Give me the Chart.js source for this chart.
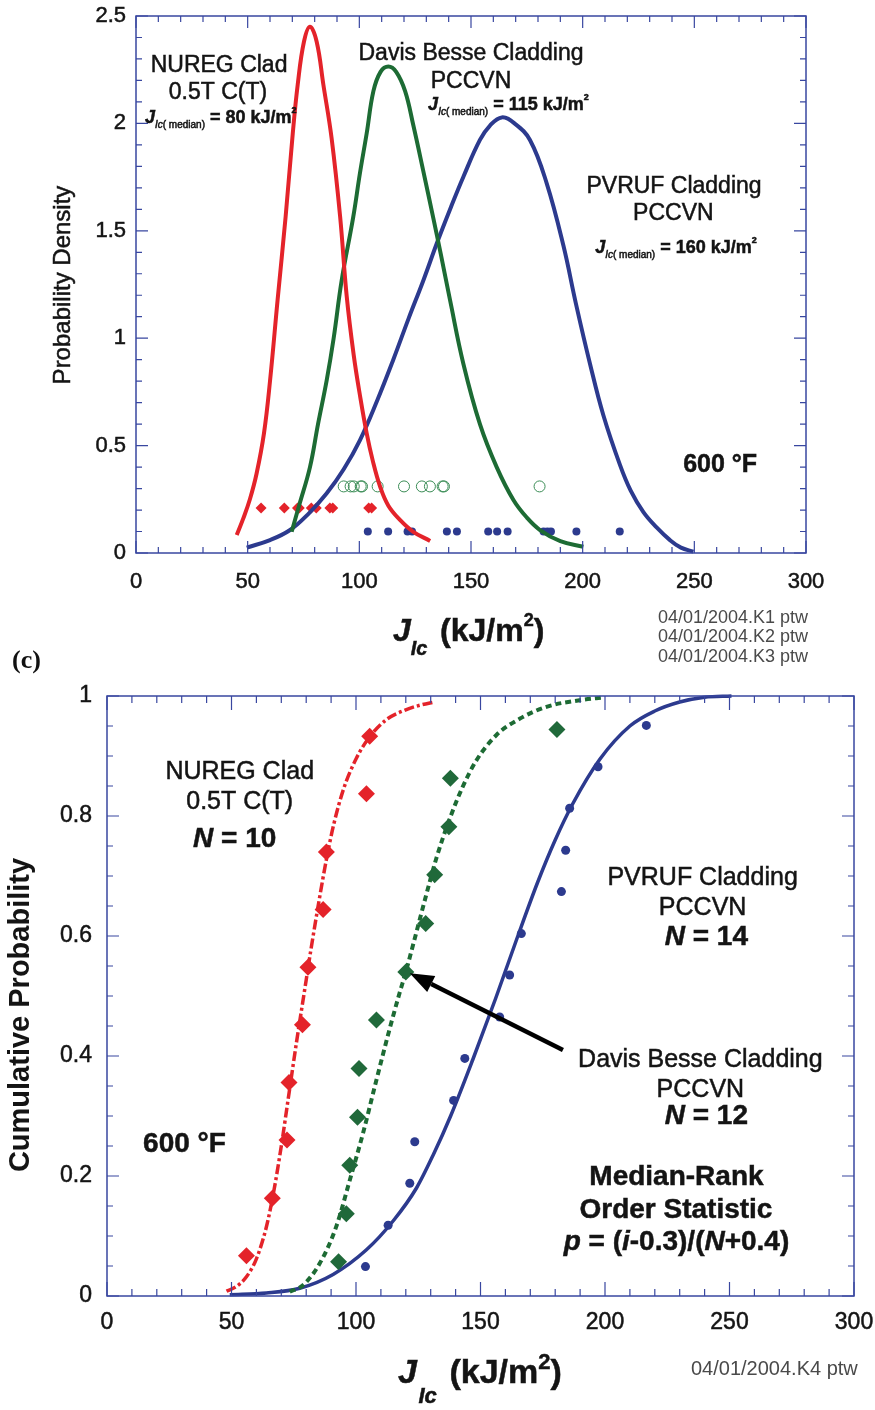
<!DOCTYPE html>
<html>
<head>
<meta charset="utf-8">
<script src="https://cdn.jsdelivr.net/npm/chart.js@4.4.1/dist/chart.umd.min.js"></script>
<style>
  html, body { margin: 0; padding: 0; background: #fff; }
  #wrap { position: relative; width: 875px; height: 1410px; overflow: hidden; }
  canvas { position: absolute; left: 0; }
  #pdfChart { top: 0; }
  #cdfChart { top: 680px; }
</style>
</head>
<body>
<div id="wrap">
  <canvas id="pdfChart" width="875" height="680"></canvas>
  <canvas id="cdfChart" width="875" height="730"></canvas>
</div>
<script>
// tick labels
var jTicks = [0, 50, 100, 150, 200, 250, 300];
var densityTicks = [0, 0.5, 1, 1.5, 2, 2.5];
var probTicks = [0, 0.2, 0.4, 0.6, 0.8, 1];

// measured J_Ic values (kJ/m^2) for each material
var nuregJ = [56, 66.4, 72.3, 73.1, 78.5, 80.7, 86.8, 88.1, 104.2, 105.5];
var davisJ = [93, 96.1, 97.5, 100.6, 101.2, 108.2, 120, 128, 131.6, 137.3, 137.9, 180.7];
var pvrufJ = [103.8, 112.9, 121.6, 123.6, 139.2, 143.7, 157.7, 161.7, 166.4, 182.5, 184.2, 185.8, 197.2, 216.6];

// heights of the data strips in the density plot: NUREG, Davis Besse, PVRUF
var stripLevels = [0.21, 0.31, 0.1];

// median-rank cumulative probabilities
var nuregP = [0.067, 0.163, 0.26, 0.356, 0.452, 0.548, 0.644, 0.74, 0.837, 0.933];
var davisP = [0.057, 0.137, 0.218, 0.298, 0.379, 0.46, 0.54, 0.621, 0.702, 0.782, 0.863, 0.944];
var pvrufP = [0.049, 0.118, 0.188, 0.257, 0.326, 0.396, 0.465, 0.535, 0.604, 0.674, 0.743, 0.813, 0.882, 0.951];

// fitted probability density curves
var nuregPdfX = [45.1, 48, 51, 54, 57.3, 60, 63.4, 67, 70.2, 72.4, 75.2, 77.9, 80.9, 83.9, 87.6, 91.4, 94.3, 97.5, 100.5, 103.3, 106, 109.3, 113, 118.2, 124, 131.7];
var nuregPdfY = [0.084, 0.16, 0.25, 0.37, 0.557, 0.8, 1.178, 1.566, 1.954, 2.18, 2.38, 2.45, 2.38, 2.18, 1.93, 1.566, 1.2, 0.92, 0.72, 0.557, 0.43, 0.309, 0.22, 0.154, 0.1, 0.056];
var davisPdfX = [69.7, 73, 77.9, 81.5, 85.4, 88.5, 92.1, 97.3, 100.3, 103.3, 106.3, 109.5, 113, 116.5, 120.5, 124.2, 128.5, 133.1, 136.5, 140.6, 146.6, 154, 161.5, 169, 175, 180.9, 190, 200.3];
var davisPdfY = [0.099, 0.22, 0.4, 0.6, 0.805, 1.0, 1.27, 1.566, 1.77, 1.954, 2.15, 2.24, 2.265, 2.24, 2.15, 1.99, 1.785, 1.56, 1.39, 1.178, 0.88, 0.6, 0.4, 0.247, 0.165, 0.107, 0.055, 0.029];
var pvrufPdfX = [49.6, 60, 69, 77, 85.4, 93, 100.3, 108, 115.2, 122, 128.7, 135, 141, 146.6, 154, 158.5, 163.8, 169.5, 176.4, 183.9, 191.4, 197, 203.3, 209.3, 216.7, 221.5, 227.2, 233, 239.1, 244, 249.6];
var pvrufPdfY = [0.025, 0.06, 0.107, 0.18, 0.278, 0.39, 0.526, 0.71, 0.9, 1.09, 1.27, 1.45, 1.61, 1.752, 1.923, 1.99, 2.028, 2.0, 1.923, 1.721, 1.43, 1.16, 0.88, 0.64, 0.41, 0.29, 0.19, 0.12, 0.06, 0.025, 0.006];

// fitted cumulative distribution curves
var nuregCdfX = [48, 52, 56, 60, 64, 67, 70, 73, 76, 79, 82, 85, 88, 91, 95, 100, 105.5, 112, 120, 126, 131.5];
var nuregCdfY = [0.008, 0.016, 0.032, 0.062, 0.115, 0.175, 0.25, 0.335, 0.42, 0.5, 0.58, 0.655, 0.725, 0.785, 0.845, 0.895, 0.932, 0.96, 0.977, 0.985, 0.99];
var davisCdfX = [73.4, 78.7, 85.4, 92.1, 97.5, 102.8, 108.2, 113.5, 117.5, 120, 122.9, 128.3, 132.3, 137.6, 143, 148.4, 156.4, 165.7, 176.5, 189.8, 199.9];
var davisCdfY = [0.007, 0.018, 0.054, 0.116, 0.193, 0.271, 0.36, 0.445, 0.505, 0.54, 0.585, 0.67, 0.73, 0.795, 0.85, 0.893, 0.935, 0.962, 0.982, 0.993, 0.998];
var pvrufCdfX = [49.3, 64, 77.4, 90.8, 104.2, 114.9, 124.3, 131, 138, 147, 156, 165, 173, 180, 187, 198, 210, 220, 230, 240, 250.8];
var pvrufCdfY = [0.002, 0.005, 0.013, 0.036, 0.077, 0.125, 0.18, 0.235, 0.3, 0.395, 0.495, 0.6, 0.69, 0.76, 0.82, 0.895, 0.95, 0.975, 0.99, 0.998, 1.0];

var FONT = "'Liberation Sans', Arial, Helvetica, sans-serif";
var RED = '#e4232a', GREEN = '#1d6b34', BLUE = '#2c3a8e', FRAME = '#3947a0', INK = '#141414';

function f(style) { return style + ' ' + FONT; }
function pts(xs, ys) { return xs.map(function (x, i) { return {x: x, y: ys[i]}; }); }
function strip(xs, level) { return xs.map(function (x) { return {x: x, y: level}; }); }

// draws a run of text pieces (t, font, dy, dx) one after the other
function richText(ctx, x, y, parts, align) {
  var w = 0;
  parts.forEach(function (p) { ctx.font = p[1]; w += ctx.measureText(p[0]).width + (p[3] || 0); });
  var cx = align === 'center' ? x - w / 2 : x;
  ctx.textAlign = 'left';
  parts.forEach(function (p) {
    ctx.font = p[1];
    cx += p[3] || 0;
    ctx.fillText(p[0], cx, y + (p[2] || 0));
    ctx.strokeText(p[0], cx, y + (p[2] || 0));
    cx += ctx.measureText(p[0]).width;
  });
}

function isMajor(v, step) { return Math.abs(v / step - Math.round(v / step)) < 1e-6; }

// frame with inward ticks on all four sides, plus the notes written on the plot
function boxPlugin(opts) {
  return {
    id: 'box',
    afterDraw: function (chart) {
      var ctx = chart.ctx, a = chart.chartArea, xs = chart.scales.x, ys = chart.scales.y;
      ctx.save();
      ctx.strokeStyle = FRAME;
      ctx.lineWidth = 1.5;
      ctx.strokeRect(a.left, a.top, a.right - a.left, a.bottom - a.top);
      ctx.lineWidth = 1.2;
      ctx.beginPath();
      var n = Math.round((xs.max - xs.min) / opts.xMinor), i, v, p, len;
      for (i = 0; i <= n; i++) {
        v = xs.min + i * opts.xMinor;
        p = xs.getPixelForValue(v);
        len = isMajor(v, opts.xMajor) ? opts.xMajLen : opts.xMinLen;
        ctx.moveTo(p, a.bottom); ctx.lineTo(p, a.bottom - len);
        ctx.moveTo(p, a.top); ctx.lineTo(p, a.top + len);
      }
      n = Math.round((ys.max - ys.min) / opts.yMinor);
      for (i = 0; i <= n; i++) {
        v = ys.min + i * opts.yMinor;
        p = ys.getPixelForValue(v);
        len = isMajor(v, opts.yMajor) ? opts.yMajLen : opts.yMinLen;
        ctx.moveTo(a.left, p); ctx.lineTo(a.left + len, p);
        ctx.moveTo(a.right, p); ctx.lineTo(a.right - len, p);
      }
      ctx.stroke();

      ctx.fillStyle = INK;
      ctx.strokeStyle = INK;
      ctx.lineWidth = 0.5;
      ctx.textBaseline = 'alphabetic';
      opts.notes.forEach(function (nt) {
        richText(ctx, xs.getPixelForValue(nt.x), ys.getPixelForValue(nt.y), nt.parts, nt.align);
      });
      if (opts.extra) opts.extra(ctx, chart);
      ctx.restore();
    }
  };
}

function fitY(w) { return function (s) { s.width = w; s.paddingTop = 0; s.paddingBottom = 0; }; }
function fitX(h) { return function (s) { s.height = h; s.paddingLeft = 0; s.paddingRight = 0; }; }
function useTicks(list) { return function (s) { s.ticks = list.map(function (v) { return {value: v}; }); }; }

function scales(xh, yw, yTicks, ymax, fontSize, xPad, yPad) {
  var tickFont = {family: FONT, size: fontSize};
  var grid = {display: false, drawTicks: false};
  return {
    x: {
      type: 'linear', min: 0, max: 300,
      afterBuildTicks: useTicks(jTicks), afterFit: fitX(xh),
      grid: grid, border: {display: false},
      ticks: {color: INK, font: tickFont, padding: xPad, maxRotation: 0, autoSkip: false,
              textStrokeColor: INK, textStrokeWidth: 0.5,
              callback: function (v) { return String(v); }}
    },
    y: {
      type: 'linear', min: 0, max: ymax,
      afterBuildTicks: useTicks(yTicks), afterFit: fitY(yw),
      grid: grid, border: {display: false},
      ticks: {color: INK, font: tickFont, padding: yPad, autoSkip: false,
              textStrokeColor: INK, textStrokeWidth: 0.5,
              callback: function (v) { return String(v); }}
    }
  };
}

function curve(data, color, width, dash, smooth) {
  var d = {data: data, showLine: true, borderColor: color, borderWidth: width, borderDash: dash || [],
           pointRadius: 0, fill: false, clip: false};
  if (smooth) { d.tension = 0.4; } else { d.cubicInterpolationMode = 'monotone'; }
  return d;
}
function marks(data, style, r, fillColor, edge) {
  return {data: data, showLine: false, pointStyle: style, pointRadius: r,
          backgroundColor: fillColor, borderColor: edge || fillColor, borderWidth: edge ? 1 : 0, clip: false};
}

var baseOptions = {
  responsive: false, animation: false, devicePixelRatio: 1,
  plugins: {legend: {display: false}, tooltip: {enabled: false}},
  events: []
};

function jLine(value) {
  return [['J', f('italic bold 18px')], ['Ic', f('italic 10px'), 5], ['( median)', f('10px'), 5],
          [' = ' + value + ' kJ/m', f('bold 18px')], ['2', f('bold 9px'), -10]];
}
function nLine(value) {
  return [['N', f('italic bold 28px')], [' = ' + value, f('bold 28px')]];
}

// ---------- probability density ----------
var pdfNotes = [
  {x: 37.2, y: 2.239, align: 'center', parts: [['NUREG Clad', f('23px')]]},
  {x: 36.7, y: 2.114, align: 'center', parts: [['0.5T C(T)', f('23px')]]},
  {x: 4.0, y: 2.002, align: 'left', parts: jLine('80')},
  {x: 150, y: 2.295, align: 'center', parts: [['Davis Besse Cladding', f('23px')]]},
  {x: 150, y: 2.163, align: 'center', parts: [['PCCVN', f('23px')]]},
  {x: 130.8, y: 2.062, align: 'left', parts: jLine('115')},
  {x: 240.9, y: 1.675, align: 'center', parts: [['PVRUF Cladding', f('23px')]]},
  {x: 240.6, y: 1.55, align: 'center', parts: [['PCCVN', f('23px')]]},
  {x: 205.6, y: 1.395, align: 'left', parts: jLine('160')},
  {x: 245, y: 0.378, align: 'left', parts: [['600 \u00B0F', f('bold 25px')]]}
];

new Chart(document.getElementById('pdfChart'), {
  type: 'scatter',
  data: {datasets: [
    curve(pts(nuregPdfX, nuregPdfY), RED, 4, null, true),
    curve(pts(davisPdfX, davisPdfY), GREEN, 4, null, true),
    curve(pts(pvrufPdfX, pvrufPdfY), BLUE, 4, null, true),
    marks(strip(nuregJ, stripLevels[0]), 'rectRot', 5.5, RED),
    marks(strip(davisJ, stripLevels[1]), 'circle', 5.5, 'rgba(0,0,0,0)', '#3a8c55'),
    marks(strip(pvrufJ, stripLevels[2]), 'circle', 4, BLUE)
  ]},
  options: Object.assign({}, baseOptions, {
    layout: {padding: {left: 0, top: 16, right: 69, bottom: 0}},
    scales: scales(127, 136, densityTicks, 2.5, 22, 16, 10)
  }),
  plugins: [boxPlugin({
    xMinor: 10, xMajor: 50, yMinor: 0.1, yMajor: 0.5,
    xMinLen: 6, xMajLen: 12, yMinLen: 6, yMajLen: 12,
    notes: pdfNotes,
    extra: function (ctx) {
      ctx.save();
      ctx.translate(70, 285);
      ctx.rotate(-Math.PI / 2);
      ctx.textAlign = 'center';
      ctx.font = f('24px');
      ctx.fillText('Probability Density', 0, 0);
      ctx.strokeText('Probability Density', 0, 0);
      ctx.restore();
      richText(ctx, 393, 641, [['J', f('italic bold 32px')], ['Ic', f('italic bold 20px'), 14],
        ['(kJ/m', f('bold 32px'), 0, 12.6], ['2', f('bold 18px'), -15], [')', f('bold 32px')]], 'left');
      ctx.fillStyle = '#4a4a4a';
      ctx.font = f('18px');
      ctx.fillText('04/01/2004.K1 ptw', 658, 623);
      ctx.fillText('04/01/2004.K2 ptw', 658, 642);
      ctx.fillText('04/01/2004.K3 ptw', 658, 662);
      ctx.fillStyle = '#111';
      ctx.font = "bold 26px 'Liberation Serif', 'Times New Roman', serif";
      ctx.fillText('(c)', 12, 668);
    }
  })]
});

// ---------- cumulative probability ----------
var cdfNotes = [
  {x: 53.3, y: 0.861, align: 'center', parts: [['NUREG Clad', f('25px')]]},
  {x: 53.3, y: 0.812, align: 'center', parts: [['0.5T C(T)', f('25px')]]},
  {x: 51.3, y: 0.749, align: 'center', parts: nLine('10')},
  {x: 239.2, y: 0.685, align: 'center', parts: [['PVRUF Cladding', f('25px')]]},
  {x: 239.2, y: 0.635, align: 'center', parts: [['PCCVN', f('25px')]]},
  {x: 240.7, y: 0.585, align: 'center', parts: nLine('14')},
  {x: 238.3, y: 0.382, align: 'center', parts: [['Davis Besse Cladding', f('25px')]]},
  {x: 238.3, y: 0.332, align: 'center', parts: [['PCCVN', f('25px')]]},
  {x: 240.7, y: 0.287, align: 'center', parts: nLine('12')},
  {x: 228.7, y: 0.185, align: 'center', parts: [['Median-Rank', f('bold 28px')]]},
  {x: 228.5, y: 0.13, align: 'center', parts: [['Order Statistic', f('bold 28px')]]},
  {x: 228.7, y: 0.0767, align: 'center', parts: [['p', f('italic bold 28px')], [' = (', f('bold 28px')],
    ['i', f('italic bold 28px')], ['-0.3)/(', f('bold 28px')], ['N', f('italic bold 28px')], ['+0.4)', f('bold 28px')]]},
  {x: 14.5, y: 0.2405, align: 'left', parts: [['600 \u00B0F', f('bold 28px')]]}
];

// arrow from the Davis Besse label to its curve (data units)
var arrowFrom = [183.1, 0.41], arrowTo = [121.6, 0.538];

new Chart(document.getElementById('cdfChart'), {
  type: 'scatter',
  data: {datasets: [
    marks(pts(nuregJ, nuregP), 'rectRot', 8.5, RED),
    marks(pts(davisJ, davisP), 'rectRot', 8.5, '#20693a'),
    marks(pts(pvrufJ, pvrufP), 'circle', 4.5, BLUE),
    curve(pts(nuregCdfX, nuregCdfY), RED, 3.5, [10, 3, 3, 3]),
    curve(pts(davisCdfX, davisCdfY), GREEN, 4, [6, 4]),
    curve(pts(pvrufCdfX, pvrufCdfY), BLUE, 3.5)
  ]},
  options: Object.assign({}, baseOptions, {
    layout: {padding: {left: 0, top: 16, right: 21, bottom: 0}},
    scales: scales(114, 107, probTicks, 1, 23, 13, 15)
  }),
  plugins: [boxPlugin({
    xMinor: 10, xMajor: 50, yMinor: 0.05, yMajor: 0.2,
    xMinLen: 7, xMajLen: 14, yMinLen: 6, yMajLen: 12,
    notes: cdfNotes,
    extra: function (ctx, chart) {
      var xs = chart.scales.x, ys = chart.scales.y;
      var x0 = xs.getPixelForValue(arrowFrom[0]), y0 = ys.getPixelForValue(arrowFrom[1]);
      var x1 = xs.getPixelForValue(arrowTo[0]), y1 = ys.getPixelForValue(arrowTo[1]);
      var ang = Math.atan2(y1 - y0, x1 - x0), head = 24, half = 9;
      var bx = x1 - head * Math.cos(ang), by = y1 - head * Math.sin(ang);
      ctx.strokeStyle = '#000';
      ctx.lineWidth = 4.5;
      ctx.beginPath(); ctx.moveTo(x0, y0); ctx.lineTo(bx, by); ctx.stroke();
      ctx.fillStyle = '#000';
      ctx.beginPath();
      ctx.moveTo(x1, y1);
      ctx.lineTo(bx + half * Math.sin(ang), by - half * Math.cos(ang));
      ctx.lineTo(bx - half * Math.sin(ang), by + half * Math.cos(ang));
      ctx.closePath(); ctx.fill();

      ctx.fillStyle = INK;
      ctx.strokeStyle = INK;
      ctx.lineWidth = 0.5;
      ctx.save();
      ctx.translate(29, 335);
      ctx.rotate(-Math.PI / 2);
      ctx.textAlign = 'center';
      ctx.font = f('bold 29px');
      ctx.fillText('Cumulative Probability', 0, 0);
      ctx.restore();
      richText(ctx, 398, 703, [['J', f('italic bold 34px')], ['Ic', f('italic bold 22px'), 20, 1.5],
        ['(kJ/m', f('bold 34px'), 0, 12.7], ['2', f('bold 22px'), -14], [')', f('bold 34px')]], 'left');
      ctx.fillStyle = '#4a4a4a';
      ctx.font = f('20px');
      ctx.fillText('04/01/2004.K4 ptw', 691, 695);
    }
  })]
});
</script>
</body>
</html>
